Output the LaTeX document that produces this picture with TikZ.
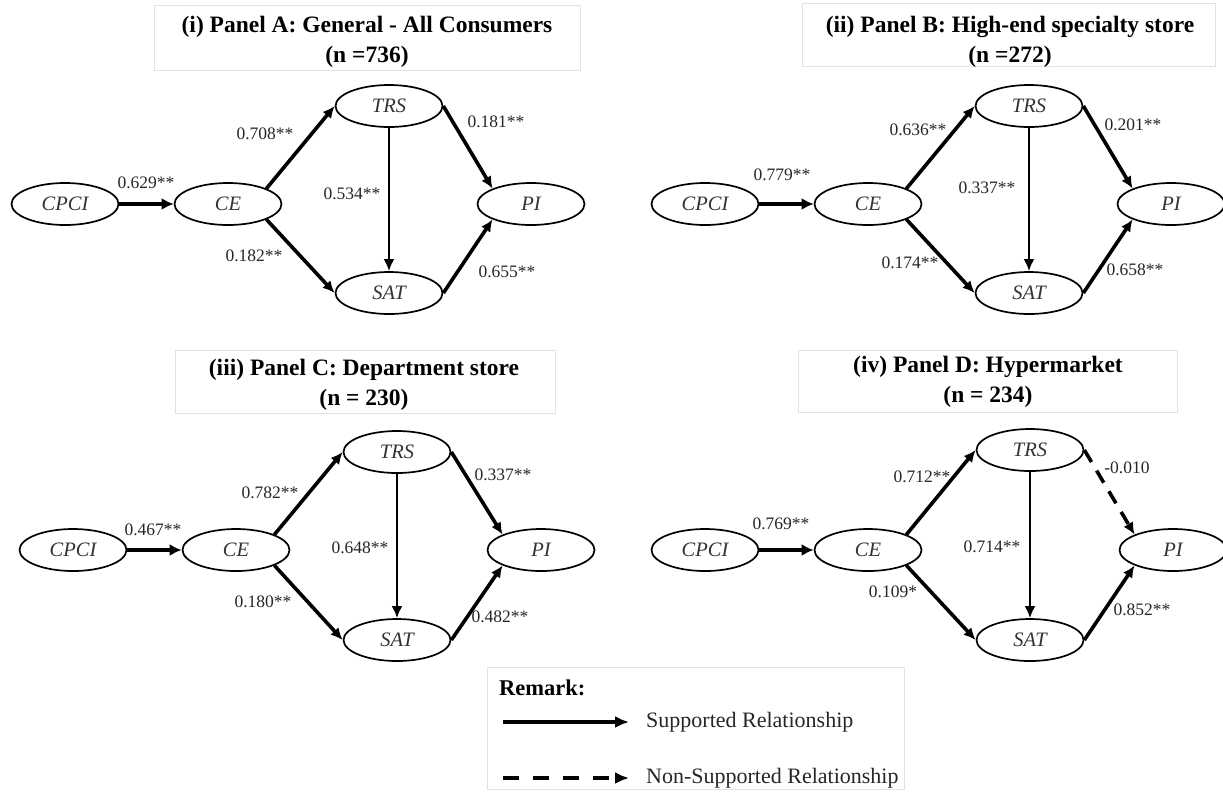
\documentclass[tikz,border=0pt]{standalone}
\usepackage{fontspec}
\setmainfont{Liberation Serif}
\usetikzlibrary{arrows.meta,shapes.geometric}
\begin{document}
\begin{tikzpicture}[x=1pt,y=-1pt,
  lat/.style={draw, ellipse, line width=1.7pt, minimum width=107pt, minimum height=42pt, inner sep=0pt, text=black!80, font=\fontsize{20.5}{24}\selectfont\itshape},
  rel/.style={line width=3.6pt, -{Latex[length=12pt,width=11pt]}},
  relthick/.style={line width=4.6pt, -{Latex[length=12pt,width=12pt]}},
  relthin/.style={line width=2.8pt, -{Latex[length=12pt,width=11pt]}},
  nsrel/.style={line width=3.6pt, dash pattern=on 14pt off 10pt, -{Latex[length=12pt,width=11pt]}},
  lgsolid/.style={line width=3.6pt, -{Latex[length=14pt,width=12pt]}},
  lgdash/.style={line width=3.6pt, dash pattern=on 16pt off 14pt, -{Latex[length=14pt,width=12pt]}},
  lbl/.style={inner sep=0pt, text=black!85, font=\fontsize{17.5}{20}\selectfont},
  tbox/.style={draw=black!11, line width=0.7pt, inner sep=0pt},
  ttl/.style={align=center, inner sep=0pt, font=\fontsize{23.5}{30}\selectfont\bfseries},
  legtxt/.style={anchor=west, inner sep=0pt, text=black!85, font=\fontsize{22}{26}\selectfont}
]
\useasboundingbox (0,0) rectangle (1223,793);

% ---------------- Titles ----------------
\node[tbox, minimum width=426pt, minimum height=65pt] (tAbox) at (367,37.5) {};
\node[ttl] (tA) at (367,42) {(i) Panel A: General - All Consumers\\(n =736)};
\node[tbox, minimum width=413pt, minimum height=63pt] (tBbox) at (1008.5,34.5) {};
\node[ttl] (tB) at (1010,42) {(ii) Panel B: High-end specialty store\\(n =272)};
\node[tbox, minimum width=380pt, minimum height=63pt] (tCbox) at (365,381.5) {};
\node[ttl] (tC) at (364,385) {(iii) Panel C: Department store\\(n = 230)};
\node[tbox, minimum width=379pt, minimum height=62pt] (tDbox) at (987.5,381) {};
\node[ttl] (tD) at (988,382) {(iv) Panel D: Hypermarket\\(n = 234)};

% ---------------- Panel A ----------------
\node[lat] (aCPCI) at (65,204) {CPCI};
\node[lat] (aCE) at (228,204) {CE};
\node[lat] (aTRS) at (389,106) {TRS};
\node[lat] (aSAT) at (389,293) {SAT};
\node[lat] (aPI) at (531,204) {PI};
\draw[relthick] (aCPCI) -- (aCE);
\draw[rel] (aCE.north east) -- (aTRS.west);
\draw[rel] (aCE.south east) -- (aSAT.west);
\draw[relthin] (aTRS) -- (aSAT);
\draw[rel] (aTRS.east) -- (aPI.north west);
\draw[rel] (aSAT.east) -- (aPI.south west);
\node[lbl] (aL1) at (146,183) {0.629**};
\node[lbl] (aL2) at (265,134) {0.708**};
\node[lbl] (aL3) at (254,256) {0.182**};
\node[lbl] (aL4) at (352,194) {0.534**};
\node[lbl] (aL5) at (496,122) {0.181**};
\node[lbl] (aL6) at (507,272) {0.655**};

% ---------------- Panel B ----------------
\node[lat] (bCPCI) at (705,204) {CPCI};
\node[lat] (bCE) at (868,204) {CE};
\node[lat] (bTRS) at (1029,106) {TRS};
\node[lat] (bSAT) at (1029,293) {SAT};
\node[lat] (bPI) at (1171,204) {PI};
\draw[relthick] (bCPCI) -- (bCE);
\draw[rel] (bCE.north east) -- (bTRS.west);
\draw[rel] (bCE.south east) -- (bSAT.west);
\draw[relthin] (bTRS) -- (bSAT);
\draw[rel] (bTRS.east) -- (bPI.north west);
\draw[rel] (bSAT.east) -- (bPI.south west);
\node[lbl] (bL1) at (782,175) {0.779**};
\node[lbl] (bL2) at (918,130) {0.636**};
\node[lbl] (bL3) at (910,263) {0.174**};
\node[lbl] (bL4) at (987,188) {0.337**};
\node[lbl] (bL5) at (1133,125) {0.201**};
\node[lbl] (bL6) at (1135,270) {0.658**};

% ---------------- Panel C ----------------
\node[lat] (cCPCI) at (73,550) {CPCI};
\node[lat] (cCE) at (236,550) {CE};
\node[lat] (cTRS) at (397,452) {TRS};
\node[lat] (cSAT) at (397,640) {SAT};
\node[lat] (cPI) at (541,550) {PI};
\draw[relthick] (cCPCI) -- (cCE);
\draw[rel] (cCE.north east) -- (cTRS.west);
\draw[rel] (cCE.south east) -- (cSAT.west);
\draw[relthin] (cTRS) -- (cSAT);
\draw[rel] (cTRS.east) -- (cPI.north west);
\draw[rel] (cSAT.east) -- (cPI.south west);
\node[lbl] (cL1) at (153,530) {0.467**};
\node[lbl] (cL2) at (270,493) {0.782**};
\node[lbl] (cL3) at (263,602) {0.180**};
\node[lbl] (cL4) at (360,548) {0.648**};
\node[lbl] (cL5) at (503,475) {0.337**};
\node[lbl] (cL6) at (500,617) {0.482**};

% ---------------- Panel D ----------------
\node[lat] (dCPCI) at (705,550) {CPCI};
\node[lat] (dCE) at (868,550) {CE};
\node[lat] (dTRS) at (1030,450) {TRS};
\node[lat] (dSAT) at (1030,640) {SAT};
\node[lat] (dPI) at (1173,550) {PI};
\draw[relthick] (dCPCI) -- (dCE);
\draw[rel] (dCE.north east) -- (dTRS.west);
\draw[rel] (dCE.south east) -- (dSAT.west);
\draw[relthin] (dTRS) -- (dSAT);
\draw[nsrel] (dTRS.east) -- (dPI.north west);
\draw[rel] (dSAT.east) -- (dPI.south west);
\node[lbl] (dL1) at (781,524) {0.769**};
\node[lbl] (dL2) at (922,477) {0.712**};
\node[lbl] (dL3) at (893,592) {0.109*};
\node[lbl] (dL4) at (992,547) {0.714**};
\node[lbl] (dL5) at (1127,468) {-0.010};
\node[lbl] (dL6) at (1142,610) {0.852**};

% ---------------- Legend ----------------
\node[tbox, minimum width=417pt, minimum height=122pt] (leg) at (696,728) {};
\node[anchor=west, inner sep=0pt, font=\fontsize{22.5}{26}\selectfont\bfseries] (rem) at (499,688) {Remark:};
\coordinate (s1) at (503,722);
\coordinate (s2) at (629,722);
\draw[lgsolid] (s1) -- (s2);
\node[legtxt] (sup) at (646,722) {Supported Relationship};
\coordinate (n1) at (503,778);
\coordinate (n2) at (629,778);
\draw[lgdash] (n1) -- (n2);
\node[legtxt] (nsup) at (646,778) {Non-Supported Relationship};
\end{tikzpicture}
\end{document}
